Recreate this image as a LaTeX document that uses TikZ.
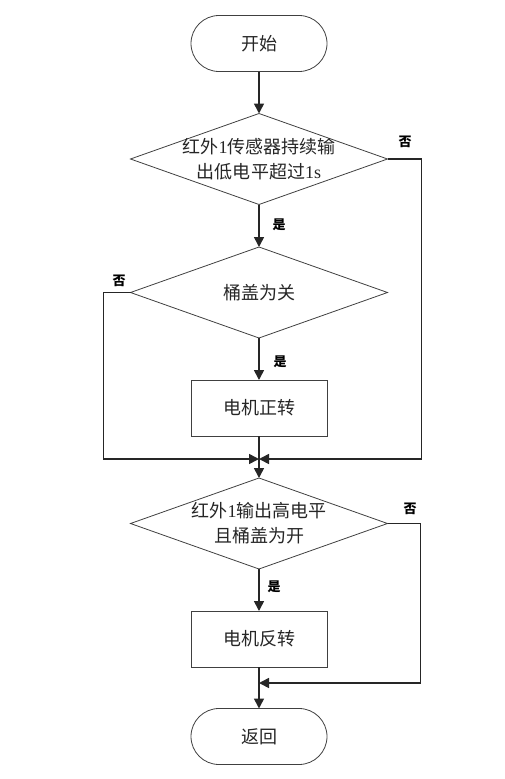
\documentclass[tikz,border=0pt]{standalone}
\usepackage{fontspec}
\setmainfont{Noto Sans CJK SC}
\newfontfamily\lat{Liberation Serif}
\usetikzlibrary{shapes.geometric,arrows.meta}
\tikzset{
  shapeline/.style={draw=black!75, line width=0.8pt, outer sep=0pt, inner sep=0pt},
  term/.style={shapeline, minimum width=136pt, minimum height=56pt, rounded corners=28pt, font=\fontsize{18}{22}\selectfont, text=black!85},
  procbox/.style={shapeline, minimum width=136pt, minimum height=56pt, font=\fontsize{18}{22}\selectfont, text=black!85},
  dia/.style={shapeline, diamond, minimum width=257pt, minimum height=91pt},
  diatext/.style={align=center, font=\fontsize{18}{25}\selectfont, inner sep=0pt, text=black!85},
  conn/.style={line width=1.6pt, draw=black!85},
  arr/.style={conn, -{Triangle[length=10pt,width=10pt]}},
  yn/.style={font=\fontsize{13}{13}\selectfont\bfseries, inner sep=0pt}
}
\begin{document}
\begin{tikzpicture}[x=1pt,y=-1pt]
\useasboundingbox (0,0) rectangle (504,779);
% shapes
\node[term] (s) at (259,43.5) {开始};
\node[dia] (d1) at (259,159) {};
\node[diatext] (t1) at (d1.center) {红外{\lat 1}传感器持续输\\出低电平超过{\lat 1s}};
\node[dia] (d2) at (259,292.5) {};
\node[diatext] (t2) at (d2.center) {桶盖为关};
\node[procbox] (b1) at (259,408) {电机正转};
\node[dia] (d3) at (259,523.5) {};
\node[diatext] (t3) at (d3.center) {红外{\lat 1}输出高电平\\且桶盖为开};
\node[procbox] (b2) at (259,639) {电机反转};
\node[term] (e) at (259,736.5) {返回};
% merge points
\coordinate (m1) at (259,459);
\coordinate (m2) at (259,683);
% connectors
\draw[arr] (s) -- (d1.north);
\draw[arr] (d1.south) -- (d2.north);
\draw[arr] (d2.south) -- (b1.north);
\draw[arr] (b1.south) -- (d3.north);
\draw[arr] (d1.east) -- ++(34,0) |- (m1);
\draw[arr] (d2.west) -- ++(-27,0) |- (m1);
\draw[arr] (d3.east) -- ++(33,0) |- (m2);
\draw[arr] (d3.south) -- (b2.north);
\draw[arr] (b2.south) -- (e.north);
% labels
\node[yn] (l1) at (405,142) {否};
\node[yn] (l2) at (279,225) {是};
\node[yn] (l3) at (119,281) {否};
\node[yn] (l4) at (280,362) {是};
\node[yn] (l5) at (410,509) {否};
\node[yn] (l6) at (274,587) {是};
\end{tikzpicture}
\end{document}
